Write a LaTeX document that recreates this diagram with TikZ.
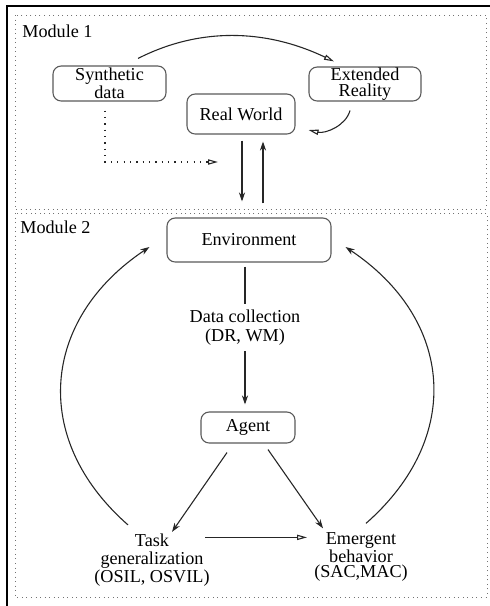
\documentclass[tikz,border=0pt]{standalone}
\usepackage{fontspec}
\setmainfont{Liberation Serif}
\usepackage{tikz}
\usetikzlibrary{arrows.meta}
\usetikzlibrary{calc}

\newcommand{\pu}{0.55pt}
\newcommand{\drawBox}[5]{
	\node[roundbox, minimum width=#3*\pu, minimum height=#4*\pu] (#1) at (#2) {#5};
}

\tikzset{
	roundbox/.style={draw=black!65, line width=0.6pt, rounded corners=4.5pt, align=center,
		inner sep=0pt, font=\fontsize{10}{8.6}\selectfont},
	modline/.style={draw=black!55, line width=0.55pt, dash pattern=on 0.55pt off 1.95pt},
	modlabel/.style={anchor=base west, inner sep=0pt, font=\fontsize{10}{12}\selectfont},
	plainlabel/.style={align=center, inner sep=0pt},
	openarr/.style={draw=black!85, line width=0.6pt, -{Triangle[open, length=5.5pt, width=2.9pt]}},
	fillarr/.style={draw=black!85, line width=0.6pt, -{Stealth[length=5pt, width=3.4pt, inset=1.6pt]}},
	dotarr/.style={openarr, dash pattern=on 0.7pt off 2.8pt}
}

\begin{document}
\begin{tikzpicture}[x=\pu, y=-\pu]
		\useasboundingbox (0,0) rectangle (490,606);
		\draw[line width=1.1pt] (490,6) -- (7,6) -- (7,606);

		\coordinate (M1_L) at (15,15);
		\coordinate (M1_R) at (486,209);
		\coordinate (M2_L) at (15,213);
		\coordinate (M2_R) at (487,597);
		\coordinate (Syn_C) at (109.5,83.5);
		\coordinate (Ext_C) at (365,84);
		\coordinate (RW_C) at (241,114);
		\coordinate (Env_C) at (249,240);
		\coordinate (Ag_C) at (248,427.5);
		\coordinate (Dot_E) at (218,162);

		\draw[modline] (M1_L) rectangle (M1_R);
		\draw[modline] (M2_L) rectangle (M2_R);
		\node[modlabel] (mod1) at (22,37) {Module 1};
		\node[modlabel] (mod2) at (20,233) {Module 2};

		\drawBox{syn}{Syn_C}{113}{35}{Synthetic\\data}
		\drawBox{ext}{Ext_C}{112}{34}{Extended\\Reality}
		\drawBox{rw}{RW_C}{108}{40}{Real World}
		\drawBox{env}{Env_C}{164}{44}{Environment}
		\drawBox{agent}{Ag_C}{94}{31}{Agent}

		\node[plainlabel, font=\fontsize{10}{9.9}\selectfont] (task) at (152,560)
			{Task\\generalization\\(OSIL, OSVIL)};
		\node[plainlabel, font=\fontsize{10}{8.5}\selectfont] (emg) at (361,557)
			{Emergent\\behavior\\(SAC,MAC)};

		\draw[openarr] ([shift={(28.5,-7)}]syn.north) .. controls +(61,-31) and +(-69,-33) .. ([shift={(-31,-5)}]ext.north);
		\draw[openarr] ([shift={(-15,9)}]ext.south) .. controls +(-4,15) and +(17,4) .. ([shift={(13,16)}]rw.east);
		\draw[dotarr] ([shift={(-4.5,9)}]syn.south) |- (Dot_E);
		\draw[fillarr] ([shift={(1,6)}]rw.south) -- ([shift={(-7,-16)}]env.north);
		\draw[fillarr] ([shift={(14,-14)}]env.north) -- ([shift={(22,7)}]rw.south);

		\draw[fillarr] ([shift={(-4,4)}]env.south) -- node[pos=0.44, fill=white, align=center, inner xsep=2pt, inner ysep=3.2pt,
			font=\fontsize{10}{10.5}\selectfont] (dc) {Data collection\\(DR, WM)} ([shift={(-3,-7)}]agent.north);
		\draw[fillarr] ([shift={(-21,9)}]agent.south) -- ([shift={(20,-1.5)}]task.north);
		\draw[fillarr] ([shift={(20,6)}]agent.south) -- ([shift={(-38,-3.5)}]emg.north);
		\coordinate (TE_S) at ([shift={(53,4)}]task.north);
		\draw[openarr] (TE_S) -- ($(TE_S -| emg.north)+(-54,0)$);
		\draw[fillarr] ([shift={(-24,-8.5)}]task.north) .. controls +(-98,-86) and +(-108,72) .. ([shift={(-17,7)}]env.west);
		\draw[fillarr] ([shift={(5,-8.5)}]emg.north) .. controls +(98,-86) and +(108,72) .. ([shift={(14,7)}]env.east);

	\end{tikzpicture}
\end{document}
